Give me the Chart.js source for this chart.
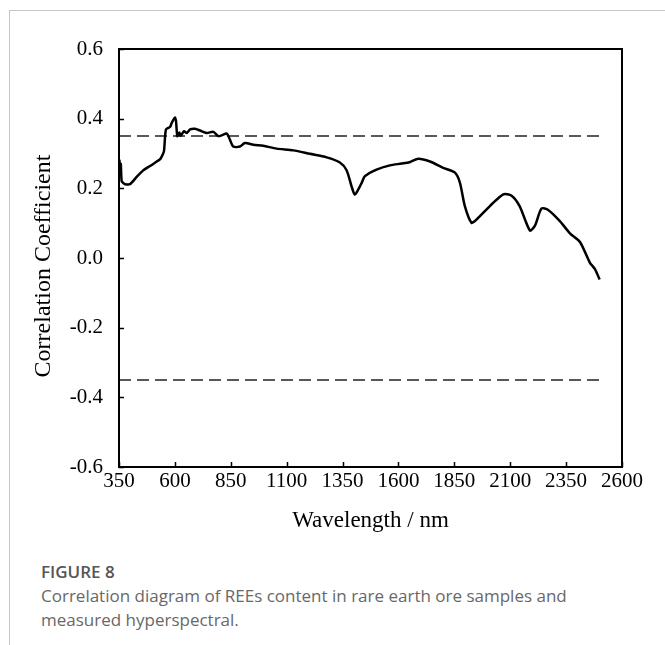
<!DOCTYPE html>
<html lang="en">

<head>
    <meta charset="UTF-8">
    <script src="https://cdn.jsdelivr.net/npm/chart.js"></script>
    <title>Figure 8</title>
    <style>
        body { margin: 0; background: #fff; }
        .moldura {
            position: absolute; left: 9px; top: 10px; width: 660px; height: 640px;
            border-top: 1px solid #c6c6c6; border-left: 1px solid #c6c6c6;
        }
        .grafico { position: absolute; left: 0; top: 0; width: 665px; height: 540px; }
        .legenda {
            position: absolute; left: 41px; top: 560px; width: 560px;
            font-family: "Open Sans", sans-serif; color: #686868; font-size: 17px; line-height: 24px;
        }
        .legenda b { font-weight: 600; color: #555; }
    </style>
</head>

<body>
    <div class="moldura"></div>
    <div class="grafico">
        <canvas id="myChart" width="665" height="540"></canvas>
    </div>
    <div class="legenda">
        <b>FIGURE 8</b><br>
        Correlation diagram of REEs content in rare earth ore samples and measured hyperspectral.
    </div>
</body>

</html>
<script>
    // wavelength (nm) and correlation coefficient
    const comprimento = [350, 352, 355, 358, 362, 370, 377, 399, 429, 459, 489, 519, 533, 541, 551, 560,
        578, 586, 600, 605, 611, 620, 626, 641, 653, 668, 690, 712, 742, 772, 794, 809, 832, 846, 861,
        891, 913, 951, 995, 1055, 1130, 1204, 1279, 1338, 1368, 1391, 1405, 1420, 1435, 1450, 1502,
        1562, 1614, 1650, 1689, 1741, 1800, 1853, 1875, 1897, 1927, 1950, 2009, 2069, 2106, 2142,
        2188, 2210, 2240, 2270, 2322, 2367, 2412, 2456, 2479, 2500];
    const correlacao = [0.27, 0.28, 0.24, 0.27, 0.22, 0.215, 0.212, 0.212, 0.233, 0.252, 0.264, 0.277,
        0.283, 0.291, 0.306, 0.369, 0.376, 0.388, 0.403, 0.393, 0.35, 0.36, 0.351, 0.364, 0.359, 0.369,
        0.371, 0.366, 0.359, 0.362, 0.35, 0.352, 0.357, 0.34, 0.32, 0.32, 0.33, 0.325, 0.322, 0.314,
        0.309, 0.299, 0.289, 0.274, 0.252, 0.204, 0.182, 0.196, 0.215, 0.235, 0.254, 0.266, 0.271,
        0.275, 0.285, 0.277, 0.259, 0.245, 0.216, 0.149, 0.101, 0.111, 0.149, 0.183, 0.179, 0.149,
        0.079, 0.092, 0.142, 0.138, 0.106, 0.071, 0.046, -0.013, -0.032, -0.062];

    // significance thresholds (dashed lines)
    const limiteX = [350, 2500];
    const limiteSup = [0.35, 0.35];
    const limiteInf = [-0.35, -0.35];

    const ticksX = [350, 600, 850, 1100, 1350, 1600, 1850, 2100, 2350, 2600];
    const ticksY = [-0.6, -0.4, -0.2, 0.0, 0.2, 0.4, 0.6];

    const tituloY = 'Correlation Coefficient';

    const pares = (xs, ys) => xs.map((x, i) => ({ x: x, y: ys[i] }));

    const fonteSerif = '"Liberation Serif", "Times New Roman", serif';

    // moldura do grafico + marcas de escala para dentro + titulo do eixo y
    const caixa = {
        id: 'caixa',
        afterDraw(chart) {
            const { ctx, chartArea: a, scales: { x, y } } = chart;
            ctx.save();
            ctx.strokeStyle = '#000';
            ctx.lineWidth = 2;
            ctx.strokeRect(a.left, a.top, a.right - a.left, a.bottom - a.top);
            ctx.lineWidth = 1.5;
            ctx.beginPath();
            ticksX.forEach(v => {
                const px = Math.round(x.getPixelForValue(v)) + 0.5;
                ctx.moveTo(px, a.bottom);
                ctx.lineTo(px, a.bottom - 5);
            });
            ticksY.forEach(v => {
                const py = Math.round(y.getPixelForValue(v)) + 0.5;
                ctx.moveTo(a.left, py);
                ctx.lineTo(a.left + 5, py);
            });
            ctx.stroke();

            ctx.translate(44, (a.top + a.bottom) / 2 + 8);
            ctx.rotate(-Math.PI / 2);
            ctx.fillStyle = '#000';
            ctx.font = '24px ' + fonteSerif;
            ctx.textAlign = 'center';
            ctx.textBaseline = 'middle';
            ctx.fillText(tituloY, 0, 0);
            ctx.restore();
        }
    };

    const myChart = new Chart(document.getElementById('myChart'), {
        type: 'line',
        data: {
            datasets: [{
                label: 'r',
                data: pares(comprimento, correlacao),
                borderColor: '#000',
                borderWidth: 2.5,
                pointRadius: 0,
                tension: 0.25,
                fill: false
            }, {
                label: '+0.35',
                data: pares(limiteX, limiteSup),
                borderColor: '#222',
                borderWidth: 1.5,
                borderDash: [12, 6],
                pointRadius: 0
            }, {
                label: '-0.35',
                data: pares(limiteX, limiteInf),
                borderColor: '#222',
                borderWidth: 1.5,
                borderDash: [12, 6],
                pointRadius: 0
            }]
        },
        options: {
            responsive: false,
            animation: false,
            devicePixelRatio: 1,
            layout: { padding: { left: 0, right: 43, top: 49, bottom: 0 } },
            plugins: {
                legend: { display: false },
                tooltip: { enabled: false }
            },
            scales: {
                x: {
                    type: 'linear',
                    min: 350,
                    max: 2600,
                    afterBuildTicks: s => { s.ticks = ticksX.map(v => ({ value: v })); },
                    afterFit: s => { s.height = 73; },
                    grid: { display: false, drawTicks: false },
                    border: { display: false },
                    ticks: {
                        color: '#000',
                        padding: 2,
                        maxRotation: 0,
                        callback: v => String(v),
                        font: { family: fonteSerif, size: 21 }
                    },
                    title: {
                        display: true,
                        text: 'Wavelength / nm',
                        color: '#000',
                        padding: { top: 0, bottom: 5 },
                        font: { family: fonteSerif, size: 23 }
                    }
                },
                y: {
                    min: -0.6,
                    max: 0.6,
                    afterBuildTicks: s => { s.ticks = ticksY.map(v => ({ value: v })); },
                    afterFit: s => { s.width = 119; },
                    grid: { display: false, drawTicks: false },
                    border: { display: false },
                    ticks: {
                        color: '#000',
                        padding: 16,
                        callback: v => v.toFixed(1),
                        font: { family: fonteSerif, size: 21 }
                    }
                }
            }
        },
        plugins: [caixa]
    });
</script>
